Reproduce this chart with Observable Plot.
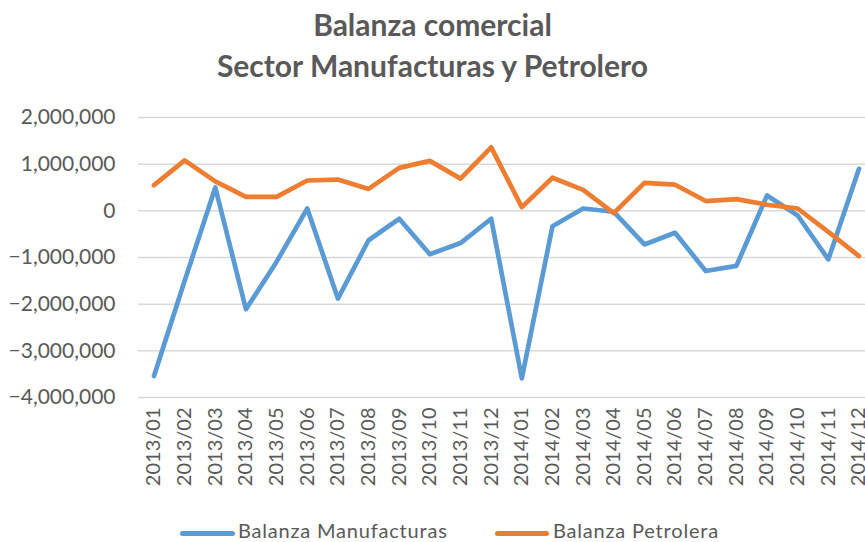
<!DOCTYPE html>
<html>
<head>
<meta charset="utf-8">
<script src="https://cdn.jsdelivr.net/npm/d3@7"></script>
<script src="https://cdn.jsdelivr.net/npm/@observablehq/plot@0.6"></script>
<style>
  html, body { margin: 0; padding: 0; background: #fff; }
  body { width: 865px; height: 542px; overflow: hidden; font-family: Lato, "Open Sans", sans-serif; color: #595959; position: relative; }
  #title { height: 90px; position: relative; }
  #title div { position: absolute; left: 0; width: 865px; text-align: center; font-weight: bold; font-size: 30px; line-height: 34px; }
  #legend { position: absolute; top: 520px; left: 0; width: 865px; height: 20px; }
  .item { position: absolute; top: 0; font-size: 20px; line-height: 20px; letter-spacing: 0.8px; white-space: nowrap; }
  .sw { position: absolute; top: 11px; height: 5px; border-radius: 3px; }
</style>
</head>
<body>
<div id="title"><div style="top:7px">Balanza comercial</div><div style="top:48px">Sector Manufacturas y Petrolero</div></div>
<div id="chart"></div>
<div id="legend"></div>
<script>
const months = ["2013/01","2013/02","2013/03","2013/04","2013/05","2013/06","2013/07","2013/08","2013/09","2013/10","2013/11","2013/12",
                "2014/01","2014/02","2014/03","2014/04","2014/05","2014/06","2014/07","2014/08","2014/09","2014/10","2014/11","2014/12"];
const manufacturas = [-3540000,-1500000,500000,-2110000,-1090000,50000,-1880000,-630000,-170000,-930000,-690000,-170000,
                      -3590000,-330000,50000,-20000,-720000,-470000,-1290000,-1180000,330000,-100000,-1040000,900000];
const petrolera = [550000,1080000,630000,300000,300000,650000,670000,470000,920000,1070000,690000,1360000,
                   80000,710000,450000,-50000,600000,560000,210000,250000,130000,50000,-450000,-970000];
const yTicks = [-4000000,-3000000,-2000000,-1000000,0,1000000,2000000];
const seriesNames = ["Balanza Manufacturas","Balanza Petrolera"];
const colors = ["#5B9BD5","#ED7D31"];

const rows = [];
months.forEach((m,i)=>rows.push({month:m, value:manufacturas[i], serie:seriesNames[0]}));
months.forEach((m,i)=>rows.push({month:m, value:petrolera[i], serie:seriesNames[1]}));

const fmt = d => d === 0 ? "0" : d3.format(",")(d);

const chart = Plot.plot({
  width: 865,
  height: 420,
  marginLeft: 138,
  marginRight: 0,
  marginTop: 27,
  marginBottom: 113,
  style: {fontFamily: "Lato, 'Open Sans', sans-serif", color: "#595959", background: "#fff"},
  x: {type: "point", domain: months, range: [153.5, 858.5], padding: 0, round: false, label: null},
  y: {domain: [-4000000, 2000000], label: null},
  color: {domain: seriesNames, range: colors},
  marks: [
    Plot.ruleY(yTicks, {stroke: "#d9d9d9", strokeWidth: 1.5}),
    Plot.axisY({ticks: yTicks, tickFormat: fmt, tickSize: 0, tickPadding: 23, fontSize: 21, fill: "#595959", label: null}),
    Plot.axisX({tickRotate: -90, tickSize: 0, tickPadding: 10, fontSize: 20, fill: "#595959", label: null}),
    Plot.line(rows, {x: "month", y: "value", z: "serie", stroke: "serie", strokeWidth: 4.7, strokeLinecap: "round", strokeLinejoin: "round"})
  ]
});
document.getElementById("chart").appendChild(chart);

const legend = document.getElementById("legend");
const pos = [{sw: 180, swW: 55, tx: 238}, {sw: 495, swW: 54, tx: 553}];
seriesNames.forEach((n,i)=>{
  const s = document.createElement("div");
  s.className = "sw"; s.style.left = pos[i].sw + "px"; s.style.width = pos[i].swW + "px"; s.style.background = colors[i];
  legend.appendChild(s);
  const t = document.createElement("div");
  t.className = "item"; t.style.left = pos[i].tx + "px"; t.textContent = n;
  legend.appendChild(t);
});
</script>
</body>
</html>
